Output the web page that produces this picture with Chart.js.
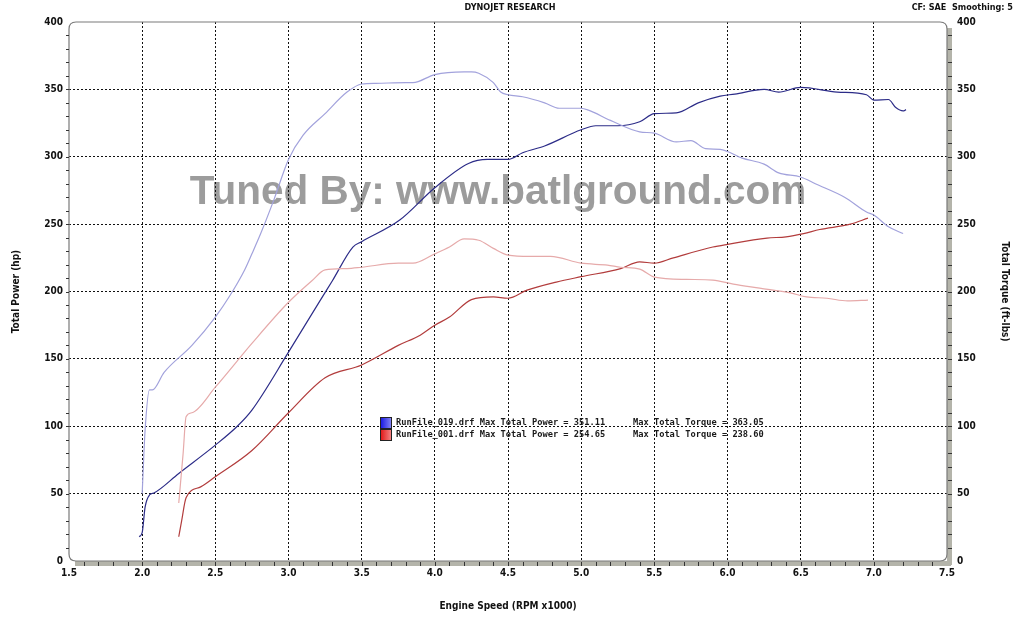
<!DOCTYPE html>
<html>
<head>
<meta charset="utf-8">
<script src="https://cdn.jsdelivr.net/npm/chart.js@4.4.1/dist/chart.umd.min.js"></script>
<style>
  html, body { margin: 0; padding: 0; background: #fff; }
  #wrap { width: 1023px; height: 620px; }
</style>
</head>
<body>
<div id="wrap"><canvas id="dyno" width="1023" height="620"></canvas></div>
<script>
// run 019 - power (hp) and torque (ft-lbs) vs rpm x1000
var run019PowerRpm = [1.98, 2.0, 2.02, 2.05, 2.08, 2.25, 2.5, 2.65, 2.75, 3.0, 3.22, 3.3, 3.44, 3.5, 3.76, 4.0, 4.23, 4.36, 4.5, 4.6, 4.75, 5.0, 5.1, 5.25, 5.4, 5.5, 5.65, 5.8, 5.95, 6.05, 6.25, 6.35, 6.5, 6.75, 6.95, 7.0, 7.1, 7.15, 7.2, 7.22];
var run019Power = [18, 21, 40, 49, 50.5, 65, 86, 100, 112, 155, 194, 208, 233, 237, 253, 277, 295, 298, 298, 303, 308, 320, 323, 323, 326, 332, 332.5, 340, 345, 346.5, 350, 348, 351.5, 348, 346, 342, 342.5, 336.5, 334, 335];
var run019TorqueRpm = [2.0, 2.02, 2.05, 2.07, 2.15, 2.34, 2.5, 2.6, 2.7, 2.75, 2.81, 2.9, 3.0, 3.1, 3.25, 3.4, 3.5, 3.6, 3.8, 3.85, 4.0, 4.2, 4.25, 4.3, 4.4, 4.45, 4.5, 4.6, 4.75, 4.85, 5.0, 5.05, 5.2, 5.4, 5.5, 5.65, 5.75, 5.85, 5.95, 6.1, 6.25, 6.35, 6.5, 6.6, 6.8, 6.95, 7.0, 7.1, 7.2];
var run019Torque = [50, 97, 127, 127, 140, 160, 181, 197, 216, 228, 243, 268, 298, 316, 332, 348, 354, 354.5, 355, 355, 361, 363, 363, 362, 355, 348, 346, 344.5, 340, 336, 336, 334.6, 327, 318.5, 317.5, 311, 312, 306, 305.5, 299, 294.5, 288, 285, 280, 270, 259, 256.7, 248, 243];

// run 001
var run001PowerRpm = [2.25, 2.27, 2.3, 2.4, 2.5, 2.75, 3.0, 3.25, 3.5, 3.75, 3.9, 4.0, 4.1, 4.25, 4.4, 4.5, 4.63, 4.83, 5.0, 5.27, 5.4, 5.5, 5.63, 5.9, 6.0, 6.27, 6.4, 6.52, 6.63, 6.84, 6.96];
var run001Power = [18, 30, 47, 55, 62.5, 82, 110, 136, 145.5, 160, 167.6, 175, 181, 194, 196, 195, 201, 207, 211, 217, 222, 221, 225, 233, 235, 239.6, 240.6, 243, 246, 250, 254.5];
var run001TorqueRpm = [2.25, 2.28, 2.3, 2.34, 2.5, 2.75, 3.0, 3.16, 3.25, 3.4, 3.5, 3.75, 3.85, 4.0, 4.1, 4.2, 4.3, 4.4, 4.5, 4.65, 4.79, 5.0, 5.18, 5.27, 5.4, 5.5, 5.72, 5.9, 6.04, 6.22, 6.43, 6.54, 6.68, 6.82, 6.96];
var run001Torque = [43, 80, 107, 110, 129, 161.5, 192, 208, 216, 217, 218, 221, 221, 228, 233, 239, 238, 232, 227, 226, 226, 221, 219.6, 218, 216.6, 210.7, 209, 208.5, 205.5, 202.5, 199, 196, 195, 193, 193.6];

var legendLines = [
    { name: "RunFile_019.drf Max Total Power = 351.11", torque: "Max Total Torque = 363.05", dark: "#1010e0", light: "#8c8cf4" },
    { name: "RunFile_001.drf Max Total Power = 254.65", torque: "Max Total Torque = 238.60", dark: "#e01010", light: "#f48c8c" }
];

function pts(xs, ys) {
    return xs.map(function (x, i) { return { x: x, y: ys[i] }; });
}

var tickFont = { family: "'DejaVu Sans Condensed', 'DejaVu Sans', sans-serif", size: 10, weight: "bold" };

// watermark, frame, minor ticks, headers and legend box
var dynoDecor = {
    id: "dynoDecor",
    beforeDraw: function (chart) {
        var c = chart.ctx;
        c.save();
        c.font = "bold 40.5px 'Liberation Sans', Arial, sans-serif";
        c.fillStyle = "#9c9c9c";
        c.textAlign = "center";
        c.textBaseline = "alphabetic";
        c.fillText("Tuned By: www.batlground.com", 498, 204);
        c.font = "bold 9px 'DejaVu Sans Condensed', 'DejaVu Sans', sans-serif";
        c.fillStyle = "#111";
        c.textBaseline = "middle";
        c.fillText("DYNOJET RESEARCH", 510, 8);
        c.textAlign = "right";
        c.fillText("CF: SAE  Smoothing: 5", 1013, 8);
        c.restore();
    },
    afterDraw: function (chart) {
        var c = chart.ctx, a = chart.chartArea;
        var xs = chart.scales.x, ys = chart.scales.y;
        c.save();
        // thick grey bars bottom and right
        c.fillStyle = "#b4b4aa";
        c.fillRect(a.left + 6, a.bottom, a.right - a.left - 2, 5);
        c.fillRect(a.right, a.top + 6, 5, a.bottom - a.top - 2);
        c.strokeStyle = "#7a7a7a";
        c.lineWidth = 1.2;
        c.beginPath();
        var r = 7;
        c.moveTo(a.left + r, a.top);
        c.lineTo(a.right - r, a.top);
        c.quadraticCurveTo(a.right, a.top, a.right, a.top + r);
        c.lineTo(a.right, a.bottom - r);
        c.quadraticCurveTo(a.right, a.bottom, a.right - r, a.bottom);
        c.lineTo(a.left + r, a.bottom);
        c.quadraticCurveTo(a.left, a.bottom, a.left, a.bottom - r);
        c.lineTo(a.left, a.top + r);
        c.quadraticCurveTo(a.left, a.top, a.left + r, a.top);
        c.stroke();
        // minor ticks
        c.strokeStyle = "#333";
        c.lineWidth = 1;
        c.beginPath();
        for (var i = 16; i < 75; i++) {
            var px = Math.round(xs.getPixelForValue(i / 10)) + 0.5;
            c.moveTo(px, a.bottom + 1);
            c.lineTo(px, a.bottom + 5);
        }
        for (var v = 10; v < 400; v += 10) {
            var py = Math.round(ys.getPixelForValue(v)) + 0.5;
            c.moveTo(a.left - 3, py);
            c.lineTo(a.left, py);
            c.moveTo(a.right + 1, py);
            c.lineTo(a.right + 5, py);
        }
        c.stroke();
        // legend
        c.font = "bold 8.7px 'DejaVu Sans Mono', monospace";
        c.textBaseline = "middle";
        legendLines.forEach(function (l, k) {
            var y0 = 417 + k * 12;
            var g = c.createLinearGradient(380, 0, 392, 0);
            g.addColorStop(0, l.dark);
            g.addColorStop(1, l.light);
            c.fillStyle = g;
            c.fillRect(380, y0, 12, 12);
            c.strokeStyle = "#222";
            c.strokeRect(380.5, y0 + 0.5, 11, 11);
            c.fillStyle = "#1a1a1a";
            c.fillText(l.name, 396, y0 + 6);
            c.fillText(l.torque, 633, y0 + 6);
        });
        c.restore();
    }
};

var ctx = document.getElementById("dyno").getContext("2d");
var chart = new Chart(ctx, {
    type: "line",
    data: {
        datasets: [
            { label: "019 Torque", data: pts(run019TorqueRpm, run019Torque), borderColor: "#a2a2dc", yAxisID: "y2" },
            { label: "001 Torque", data: pts(run001TorqueRpm, run001Torque), borderColor: "#e6aaaa", yAxisID: "y2" },
            { label: "019 Power", data: pts(run019PowerRpm, run019Power), borderColor: "#2c2c88", yAxisID: "y" },
            { label: "001 Power", data: pts(run001PowerRpm, run001Power), borderColor: "#b23c3c", yAxisID: "y" }
        ]
    },
    options: {
        responsive: false,
        animation: false,
        parsing: false,
        layout: { padding: { top: 22, left: 0, right: 0, bottom: 0 } },
        elements: {
            point: { radius: 0 },
            line: { borderWidth: 1.2, cubicInterpolationMode: "monotone", fill: false }
        },
        plugins: {
            legend: { display: false },
            tooltip: { enabled: false }
        },
        scales: {
            x: {
                type: "linear", min: 1.5, max: 7.5,
                ticks: { stepSize: 0.5, padding: 6, color: "#111", font: tickFont, maxRotation: 0,
                    callback: function (v) { return v.toFixed(1); } },
                grid: { drawTicks: false, lineWidth: 1,
                    color: function (c) { return (c.tick && (c.tick.value <= 1.5 || c.tick.value >= 7.5)) ? "rgba(0,0,0,0)" : "#111"; } },
                border: { display: false, dash: [2, 2] },
                title: { display: true, text: "Engine Speed (RPM x1000)", color: "#111", font: tickFont, padding: { top: 0, bottom: 8 } },
                afterFit: function (s) { s.height = 59; }
            },
            y: {
                position: "left", min: 0, max: 400,
                ticks: { stepSize: 50, padding: 6, color: "#111", font: tickFont },
                grid: { drawTicks: false, lineWidth: 1,
                    color: function (c) { return (c.tick && (c.tick.value <= 0 || c.tick.value >= 400)) ? "rgba(0,0,0,0)" : "#111"; } },
                border: { display: false, dash: [2, 2] },
                title: { display: true, text: "Total Power (hp)", color: "#111", font: tickFont, padding: { top: 10, bottom: 0 } },
                afterFit: function (s) { s.width = 69; }
            },
            y2: {
                position: "right", min: 0, max: 400,
                ticks: { stepSize: 50, padding: 10, color: "#111", font: tickFont },
                grid: { display: false, drawTicks: false },
                border: { display: false },
                title: { display: true, text: "Total Torque (ft-lbs)", color: "#111", font: tickFont, padding: { top: 12, bottom: 0 } },
                afterFit: function (s) { s.width = 76; }
            }
        }
    },
    plugins: [dynoDecor]
});
</script>
</body>
</html>
